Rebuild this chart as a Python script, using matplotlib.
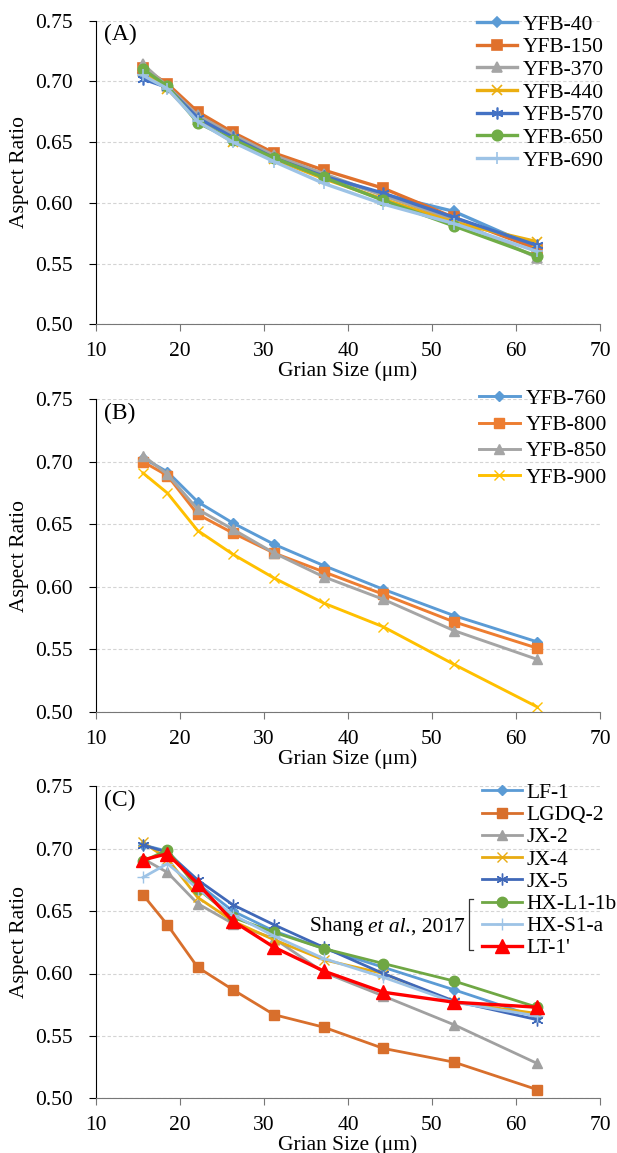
import matplotlib
matplotlib.use('Agg')
import matplotlib.pyplot as plt
from matplotlib.lines import Line2D
from matplotlib.offsetbox import TextArea, HPacker, AnnotationBbox

plt.rcParams['font.family'] = ['Liberation Serif', 'DejaVu Serif']

# grain size classes (um)
size = [15.6, 18.5, 22.1, 26.3, 31.2, 37.1, 44.2, 52.6, 62.5]

# panel A
names_a = ['YFB-40', 'YFB-150', 'YFB-370', 'YFB-440', 'YFB-570', 'YFB-650', 'YFB-690']
yfb40 = [0.707, 0.697, 0.672, 0.655, 0.638, 0.622, 0.607, 0.593, 0.563]
yfb150 = [0.711, 0.698, 0.675, 0.658, 0.641, 0.627, 0.612, 0.588, 0.562]
yfb370 = [0.714, 0.696, 0.672, 0.656, 0.639, 0.624, 0.606, 0.586, 0.555]
yfb440 = [0.708, 0.694, 0.668, 0.650, 0.636, 0.620, 0.603, 0.584, 0.568]
yfb570 = [0.702, 0.695, 0.670, 0.654, 0.637, 0.622, 0.608, 0.588, 0.565]
yfb650 = [0.710, 0.696, 0.666, 0.652, 0.637, 0.621, 0.602, 0.581, 0.556]
yfb690 = [0.705, 0.694, 0.667, 0.650, 0.634, 0.616, 0.599, 0.583, 0.560]

# panel B
names_b = ['YFB-760', 'YFB-800', 'YFB-850', 'YFB-900']
yfb760 = [0.703, 0.692, 0.668, 0.651, 0.634, 0.617, 0.598, 0.577, 0.556]
yfb800 = [0.700, 0.689, 0.658, 0.643, 0.627, 0.612, 0.594, 0.572, 0.551]
yfb850 = [0.705, 0.690, 0.662, 0.646, 0.627, 0.608, 0.590, 0.565, 0.542]
yfb900 = [0.691, 0.675, 0.645, 0.626, 0.607, 0.587, 0.568, 0.538, 0.504]

# panel C
names_c = ['LF-1', 'LGDQ-2', 'JX-2', 'JX-4', 'JX-5', 'HX-L1-1b', 'HX-S1-a', "LT-1'"]
lf1 = [0.703, 0.698, 0.672, 0.650, 0.634, 0.620, 0.605, 0.587, 0.565]
lgdq2 = [0.663, 0.639, 0.605, 0.587, 0.567, 0.557, 0.540, 0.529, 0.507]
jx2 = [0.692, 0.681, 0.656, 0.640, 0.628, 0.601, 0.582, 0.559, 0.528]
jx4 = [0.705, 0.692, 0.661, 0.642, 0.627, 0.611, 0.600, 0.577, 0.568]
jx5 = [0.703, 0.697, 0.675, 0.655, 0.639, 0.621, 0.600, 0.578, 0.563]
hxl1 = [0.690, 0.699, 0.668, 0.645, 0.633, 0.620, 0.608, 0.594, 0.573]
hxs1 = [0.677, 0.688, 0.668, 0.647, 0.630, 0.612, 0.597, 0.577, 0.566]
lt1 = [0.691, 0.696, 0.672, 0.642, 0.621, 0.602, 0.585, 0.577, 0.573]

W, H = 617, 1153
FS = 15.5
fig = plt.figure(figsize=(W / 100, H / 100), dpi=100)


def make_axes(top, bottom):
    l, r = 96, 600
    return fig.add_axes([l / W, 1 - bottom / H, (r - l) / W, (bottom - top) / H])


def style(ax, tag):
    ax.set_xlim(10, 70)
    ax.set_ylim(0.50, 0.75)
    ax.set_xticks(range(10, 71, 10))
    ax.set_yticks([0.50, 0.55, 0.60, 0.65, 0.70, 0.75])
    ax.set_yticklabels(['%.2f' % v for v in [0.50, 0.55, 0.60, 0.65, 0.70, 0.75]])
    ax.grid(axis='y', color='#d4d4d4', linestyle=(0, (3, 2)), linewidth=0.8)
    ax.set_axisbelow(True)
    for s in ['top', 'right']:
        ax.spines[s].set_visible(False)
    ax.spines['left'].set_color('black')
    ax.spines['bottom'].set_color('#777777')
    ax.tick_params(axis='both', labelsize=FS, length=5, direction='out')
    ax.tick_params(axis='y', pad=12)
    ax.tick_params(axis='x', color='#777777', pad=8)
    ax.set_xlabel('Grian Size (μm)', fontsize=FS, labelpad=0)
    ax.set_ylabel('Aspect Ratio', fontsize=FS, labelpad=4)
    ax.text(0.015, 0.99, tag, transform=ax.transAxes, fontsize=17, va='top', ha='left')


# ---- A
ax = make_axes(20.7, 324.3)
ser_a = [yfb40, yfb150, yfb370, yfb440, yfb570, yfb650, yfb690]
col_a = ['#5B9BD5', '#E0712C', '#A5A5A5', '#EBAE10', '#4472C4', '#70AD47', '#9DC3E6']
mk_a = ['D', 's', '^', 'x', (6, 2, 0), 'o', '+']
ms_a = [5.5, 7.5, 7.5, 7.5, 8.5, 7.5, 9]
for y, n, c, m, s in zip(ser_a, names_a, col_a, mk_a, ms_a):
    ax.plot(size, y, color=c, lw=2.4, marker=m, ms=s, mew=1.2, label=n)
style(ax, '(A)')
ax.legend(loc='upper left', bbox_to_anchor=(0.755, 1.02), frameon=False, fontsize=FS,
          borderaxespad=0, borderpad=0, handlelength=1.9, handletextpad=0.25, labelspacing=0.12)

# ---- B
ax = make_axes(399.3, 711.8)
ser_b = [yfb760, yfb800, yfb850, yfb900]
col_b = ['#5B9BD5', '#ED7D31', '#A5A5A5', '#FFC000']
mk_b = ['D', 's', '^', 'x']
ms_b = [5.5, 7.5, 7.5, 7.5]
for y, n, c, m, s in zip(ser_b, names_b, col_b, mk_b, ms_b):
    ax.plot(size, y, color=c, lw=2.1, marker=m, ms=s, mew=1.0, label=n)
style(ax, '(B)')
ax.legend(loc='upper left', bbox_to_anchor=(0.76, 1.034), frameon=False, fontsize=FS,
          borderaxespad=0, borderpad=0, handlelength=1.9, handletextpad=0.25, labelspacing=0.29)

# ---- C
ax = make_axes(786.3, 1098.3)
ser_c = [lf1, lgdq2, jx2, jx4, jx5, hxl1, hxs1, lt1]
col_c = ['#5B9BD5', '#D86F2C', '#A0A0A0', '#E8AB12', '#4068B8', '#6FA744', '#9DC3E6', '#FF0000']
mk_c = ['D', 's', '^', 'x', (6, 2, 0), 'o', '+', '^']
ms_c = [5.5, 7.5, 7.5, 7.5, 8.5, 7.5, 9, 10]
lw_c = [2.0, 2.0, 2.0, 2.0, 2.0, 2.0, 2.0, 2.4]
for y, n, c, m, s, w in zip(ser_c, names_c, col_c, mk_c, ms_c, lw_c):
    ax.plot(size, y, color=c, lw=w, marker=m, ms=s, mew=1.0, label=n)
style(ax, '(C)')
ax.legend(loc='upper left', bbox_to_anchor=(0.765, 1.011), frameon=False, fontsize=FS,
          borderaxespad=0, borderpad=0, handlelength=1.9, handletextpad=0.2, labelspacing=0.10)

# bracket + citation
bx = [473 / W, 469 / W, 469 / W, 473 / W]
by = [1 - 899 / H, 1 - 899 / H, 1 - 950 / H, 1 - 950 / H]
fig.add_artist(Line2D(bx, by, color='#333333', lw=0.9, transform=fig.transFigure))
parts = HPacker(children=[TextArea('Shang ', textprops=dict(fontsize=FS)),
                          TextArea('et al.', textprops=dict(fontsize=FS, style='italic')),
                          TextArea(', 2017', textprops=dict(fontsize=FS))],
                align='baseline', pad=0, sep=0)
fig.add_artist(AnnotationBbox(parts, (465 / W, 1 - 927 / H), xycoords='figure fraction',
                              box_alignment=(1, 0.5), frameon=False, pad=0))

fig.savefig('out.png', dpi=100)
